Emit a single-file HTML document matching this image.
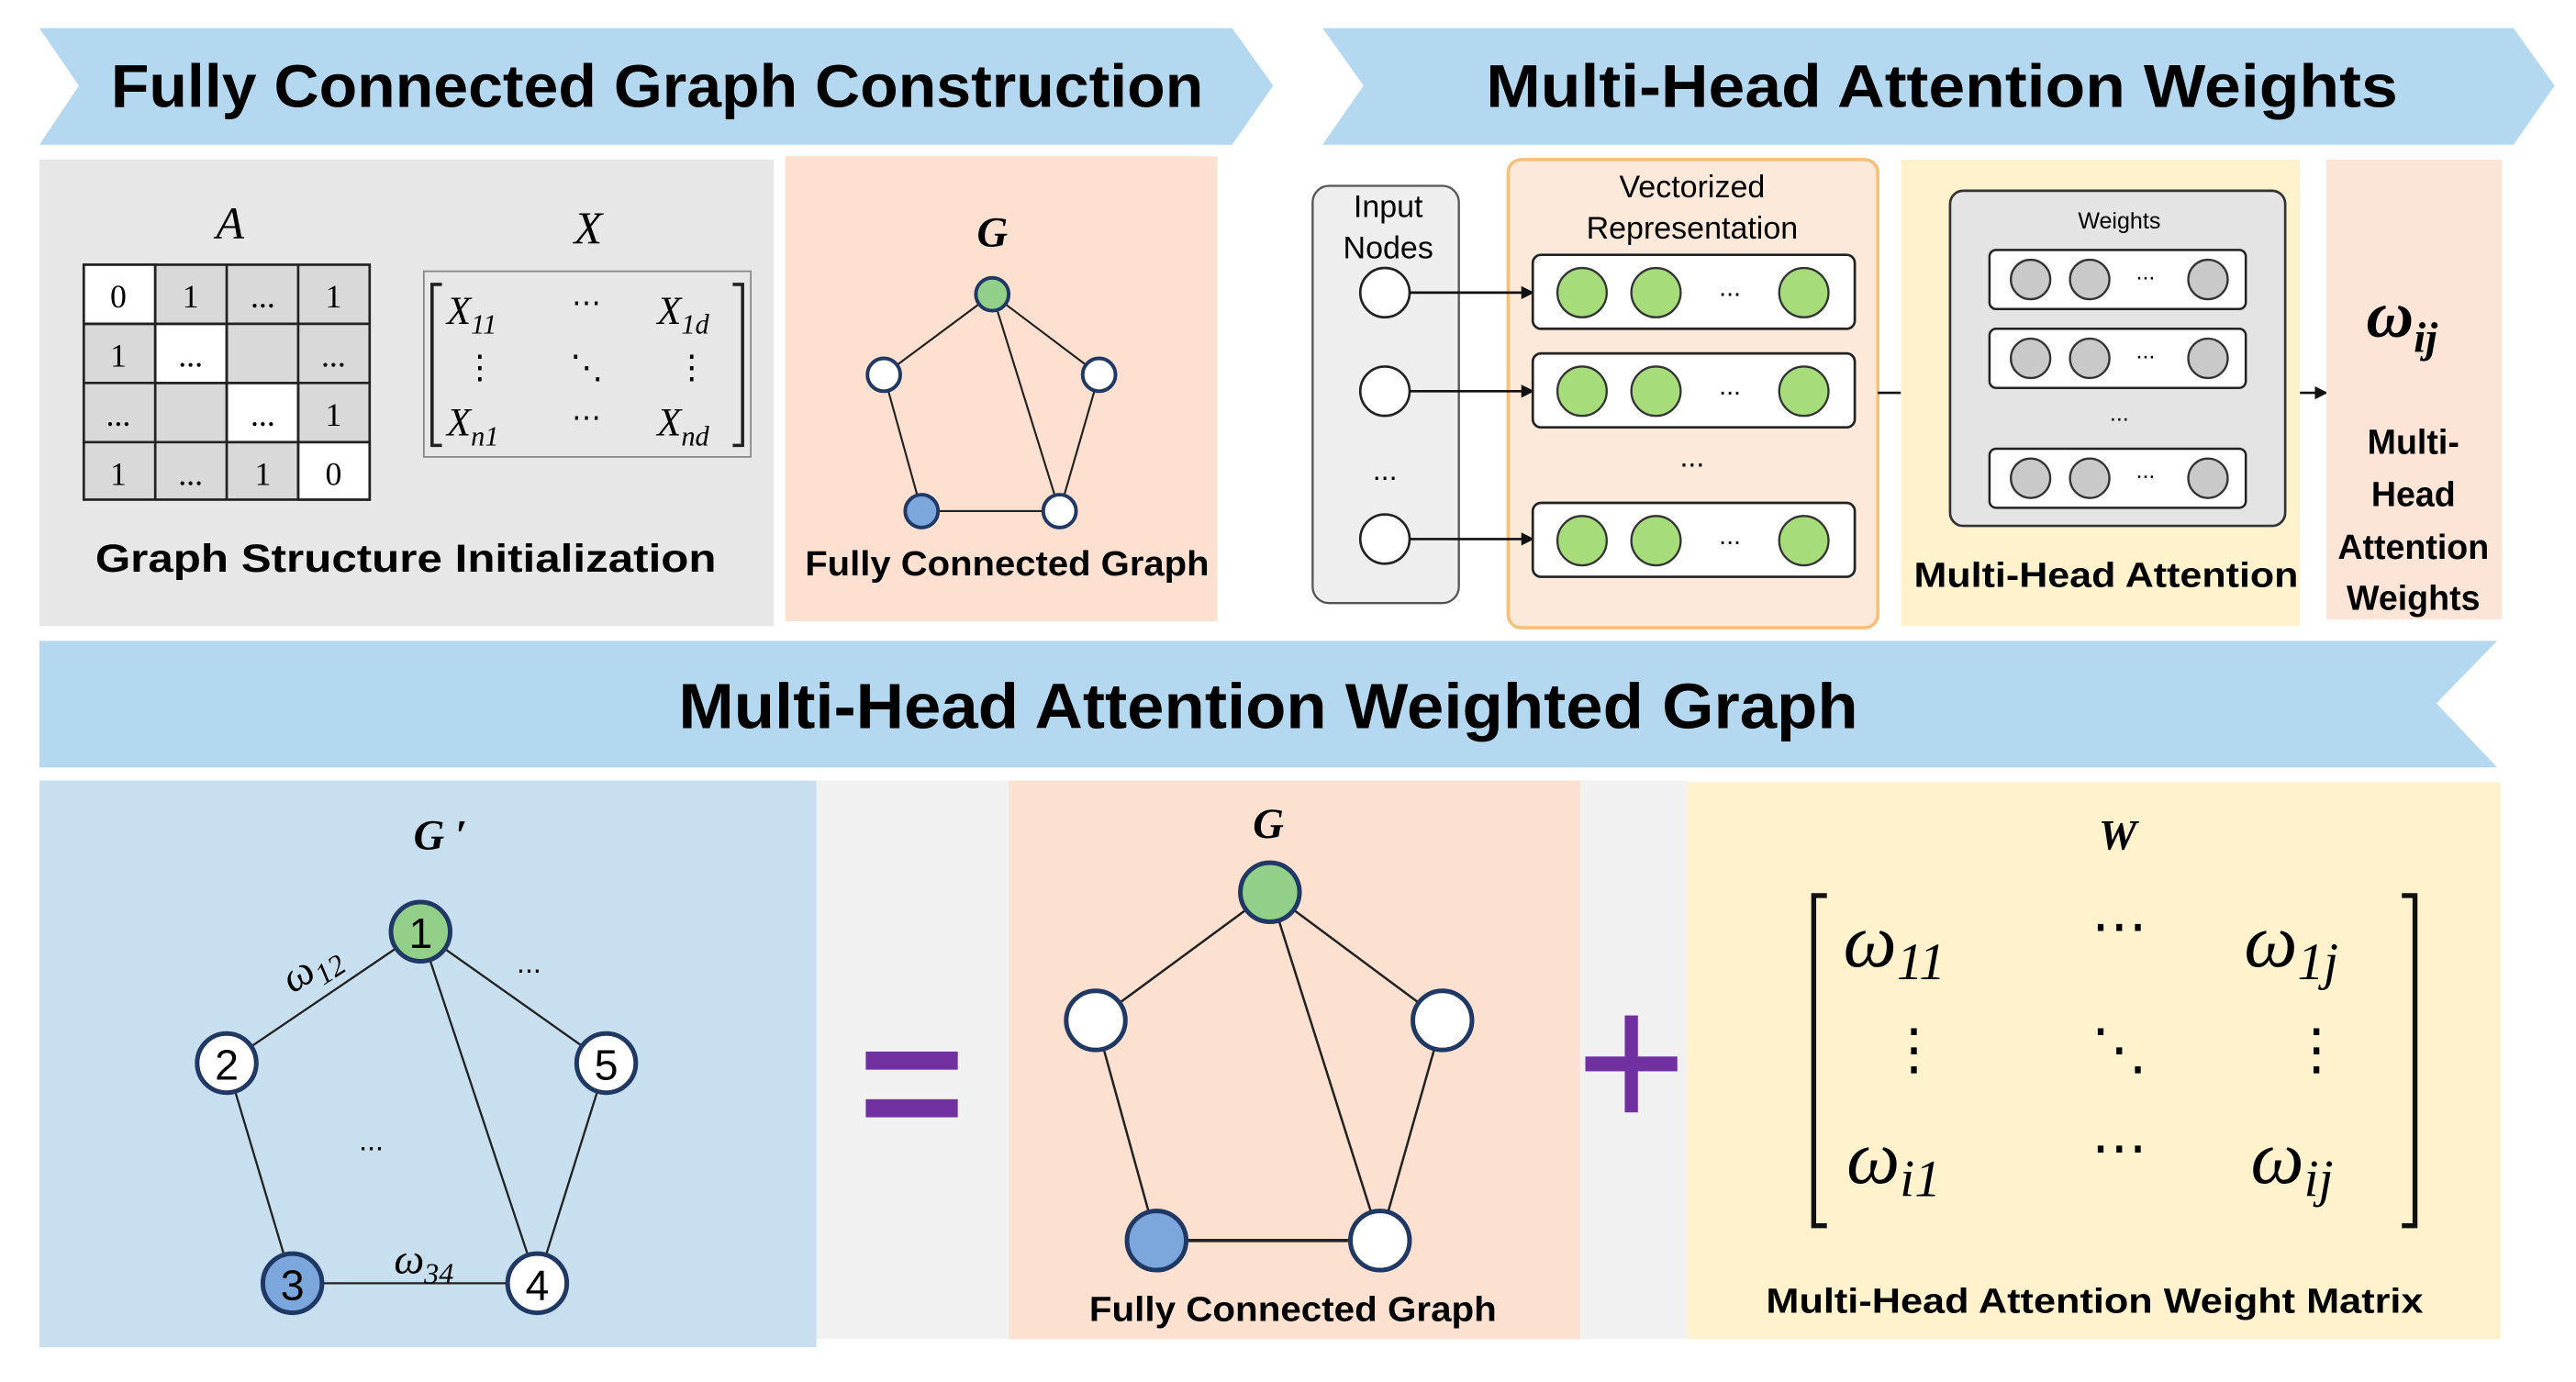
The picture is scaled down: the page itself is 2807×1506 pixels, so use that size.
<!DOCTYPE html>
<html><head><meta charset="utf-8"><style>
html,body{margin:0;padding:0;background:#fff;}
svg{display:block;}
.b{font-family:"Liberation Sans",sans-serif;font-weight:bold;fill:#000;}
.s{font-family:"Liberation Sans",sans-serif;fill:#000;}
.m{font-family:"Liberation Serif",serif;font-style:italic;fill:#000;}
.n{stroke:#1f3864;stroke-width:2.2;}
</style></head><body>
<svg width="2807" height="1506" viewBox="0 0 1568 841" xmlns="http://www.w3.org/2000/svg">
<rect width="1568" height="841" fill="#fff"/>
<!-- banners -->
<polygon points="24,17 750,17 775,52 750,88 24,88 48,52" fill="#b4d8ef"/>
<text class="b" x="400" y="65" font-size="37" text-anchor="middle" textLength="665" lengthAdjust="spacingAndGlyphs">Fully Connected Graph Construction</text>
<polygon points="805,17 1530,17 1555,52 1530,88 805,88 830,52" fill="#b4d8ef"/>
<text class="b" x="1182" y="65" font-size="37" text-anchor="middle" textLength="555" lengthAdjust="spacingAndGlyphs">Multi-Head Attention Weights</text>
<polygon points="24,390 1520,390 1483,428 1520,467 24,467" fill="#b4d8ef"/>
<text class="b" x="772" y="443" font-size="39" text-anchor="middle" textLength="718" lengthAdjust="spacingAndGlyphs">Multi-Head Attention Weighted Graph</text>

<!-- top-left panels -->
<rect x="24" y="97" width="447" height="284" fill="#e7e7e7"/>
<rect x="478" y="95" width="263" height="283" fill="#fde0cf"/>
<text class="m" x="140" y="145" font-size="28" text-anchor="middle">A</text>
<text class="m" x="358" y="148" font-size="28" text-anchor="middle">X</text>
<g stroke="#222" stroke-width="1.5">
<rect x="51" y="161" width="174" height="143" fill="#d9d9d9"/>
<rect x="51" y="161" width="43.5" height="36" fill="#fff"/>
<rect x="94.5" y="197" width="43.5" height="36" fill="#fff"/>
<rect x="138" y="233" width="43.5" height="36" fill="#fff"/>
<rect x="181.5" y="269" width="43.5" height="35" fill="#fff"/>
<line x1="94.5" y1="161" x2="94.5" y2="304"/><line x1="138" y1="161" x2="138" y2="304"/><line x1="181.5" y1="161" x2="181.5" y2="304"/>
<line x1="51" y1="197" x2="225" y2="197"/><line x1="51" y1="233" x2="225" y2="233"/><line x1="51" y1="269" x2="225" y2="269"/>
</g>
<g class="s" font-family="Liberation Serif" font-size="20" text-anchor="middle" style="font-family:'Liberation Serif',serif">
<text x="72" y="187">0</text><text x="116" y="187">1</text><text x="160" y="187">...</text><text x="203" y="187">1</text>
<text x="72" y="223">1</text><text x="116" y="223">...</text><text x="203" y="223">...</text>
<text x="72" y="259">...</text><text x="160" y="259">...</text><text x="203" y="259">1</text>
<text x="72" y="295">1</text><text x="116" y="295">...</text><text x="160" y="295">1</text><text x="203" y="295">0</text>
</g>
<rect x="258" y="165" width="199" height="113" fill="none" stroke="#888" stroke-width="1"/>
<path d="M269,173 h-6 v98 h6 M446,173 h6 v98 h-6" fill="none" stroke="#222" stroke-width="2"/>
<text class="m" x="272" y="197" font-size="24">X<tspan font-size="17" dy="6">11</tspan></text>
<text class="m" x="400" y="197" font-size="24">X<tspan font-size="17" dy="6">1d</tspan></text>
<text class="m" x="272" y="265" font-size="24">X<tspan font-size="17" dy="6">n1</tspan></text>
<text class="m" x="400" y="265" font-size="24">X<tspan font-size="17" dy="6">nd</tspan></text>
<text class="s" x="357" y="190" font-size="18" text-anchor="middle">⋯</text>
<text class="s" x="357" y="260" font-size="18" text-anchor="middle">⋯</text>
<text class="s" x="292" y="230" font-size="20" text-anchor="middle">⋮</text>
<text class="s" x="357" y="230" font-size="20" text-anchor="middle">⋱</text>
<text class="s" x="421" y="230" font-size="20" text-anchor="middle">⋮</text>
<text class="b" x="247" y="348" font-size="24" text-anchor="middle" textLength="378" lengthAdjust="spacingAndGlyphs">Graph Structure Initialization</text>

<text class="m" x="604" y="150" font-size="26" font-weight="bold" text-anchor="middle">G</text>
<g stroke="#222" stroke-width="1.2">
<line x1="604" y1="179" x2="538" y2="228"/><line x1="604" y1="179" x2="669" y2="228"/><line x1="604" y1="179" x2="645" y2="311"/>
<line x1="538" y1="228" x2="561" y2="311"/><line x1="669" y1="228" x2="645" y2="311"/><line x1="561" y1="311" x2="645" y2="311"/>
</g>
<circle class="n" cx="604" cy="179" r="10" fill="#92d08a"/>
<circle class="n" cx="538" cy="228" r="10" fill="#fff"/>
<circle class="n" cx="669" cy="228" r="10" fill="#fff"/>
<circle class="n" cx="561" cy="311" r="10" fill="#7ba7dd"/>
<circle class="n" cx="645" cy="311" r="10" fill="#fff"/>
<text class="b" x="613" y="350" font-size="21" text-anchor="middle" textLength="246" lengthAdjust="spacingAndGlyphs">Fully Connected Graph</text>

<!-- top-right -->
<rect x="799" y="113" width="89" height="254" rx="10" fill="#eeeeee" stroke="#555" stroke-width="1.3"/>
<text class="s" x="845" y="132" font-size="19" text-anchor="middle">Input</text>
<text class="s" x="845" y="157" font-size="19" text-anchor="middle">Nodes</text>
<text class="s" x="843" y="292" font-size="18" text-anchor="middle">...</text>
<rect x="918" y="97" width="225" height="285" rx="8" fill="#fde9d9" stroke="#f5c07a" stroke-width="2"/>
<text class="s" x="1030" y="120" font-size="19" text-anchor="middle">Vectorized</text>
<text class="s" x="1030" y="145" font-size="19" text-anchor="middle">Representation</text>
<text class="s" x="1030" y="284" font-size="18" text-anchor="middle">...</text>
<defs><marker id="ar" markerWidth="8" markerHeight="8" refX="7" refY="4" orient="auto" markerUnits="userSpaceOnUse"><path d="M0,0 L8,4 L0,8 z" fill="#111"/></marker></defs>
<g>
<circle cx="843" cy="178" r="15" fill="#fff" stroke="#222" stroke-width="1.5"/>
<circle cx="843" cy="238" r="15" fill="#fff" stroke="#222" stroke-width="1.5"/>
<circle cx="843" cy="328" r="15" fill="#fff" stroke="#222" stroke-width="1.5"/>
<g stroke="#111" stroke-width="1.5" marker-end="url(#ar)">
<line x1="858" y1="178" x2="933" y2="178"/><line x1="858" y1="238" x2="933" y2="238"/><line x1="858" y1="328" x2="933" y2="328"/>
<line x1="1143" y1="239" x2="1187" y2="239"/><line x1="1391" y1="239" x2="1416" y2="239"/>
</g>
</g>
<g stroke="#222" stroke-width="1.5">
<rect x="933" y="155" width="196" height="45" rx="5" fill="#fff"/>
<rect x="933" y="215" width="196" height="45" rx="5" fill="#fff"/>
<rect x="933" y="306" width="196" height="45" rx="5" fill="#fff"/>
</g>
<g fill="#a6dc7a" stroke="#333" stroke-width="1.3">
<circle cx="963" cy="178" r="15"/><circle cx="1008" cy="178" r="15"/><circle cx="1098" cy="178" r="15"/>
<circle cx="963" cy="238" r="15"/><circle cx="1008" cy="238" r="15"/><circle cx="1098" cy="238" r="15"/>
<circle cx="963" cy="329" r="15"/><circle cx="1008" cy="329" r="15"/><circle cx="1098" cy="329" r="15"/>
</g>
<g class="s" font-size="16" text-anchor="middle"><text x="1053" y="180">...</text><text x="1053" y="240">...</text><text x="1053" y="331">...</text></g>

<rect x="1157" y="97" width="243" height="284" fill="#fff2cc"/>
<rect x="1187" y="116" width="204" height="204" rx="8" fill="#e4e4e4" stroke="#333" stroke-width="1.5"/>
<text class="s" x="1290" y="139" font-size="14" text-anchor="middle">Weights</text>
<text class="s" x="1290" y="256" font-size="14" text-anchor="middle">...</text>
<g stroke="#222" stroke-width="1.4" fill="#fff">
<rect x="1211" y="152" width="156" height="36" rx="4"/><rect x="1211" y="200" width="156" height="36" rx="4"/><rect x="1211" y="273" width="156" height="36" rx="4"/>
</g>
<g fill="#c9c9c9" stroke="#333" stroke-width="1.3">
<circle cx="1236" cy="170" r="12"/><circle cx="1272" cy="170" r="12"/><circle cx="1344" cy="170" r="12"/>
<circle cx="1236" cy="218" r="12"/><circle cx="1272" cy="218" r="12"/><circle cx="1344" cy="218" r="12"/>
<circle cx="1236" cy="291" r="12"/><circle cx="1272" cy="291" r="12"/><circle cx="1344" cy="291" r="12"/>
</g>
<g class="s" font-size="14" text-anchor="middle"><text x="1306" y="170">...</text><text x="1306" y="218">...</text><text x="1306" y="291">...</text></g>
<text class="b" x="1282" y="357" font-size="21" text-anchor="middle" textLength="234" lengthAdjust="spacingAndGlyphs">Multi-Head Attention</text>

<rect x="1416" y="97" width="107" height="280" fill="#fce4d6"/>
<text class="m" x="1462" y="205" font-size="40" font-weight="bold" text-anchor="middle">ω<tspan font-size="26" dy="9">ij</tspan></text>
<g class="b" font-size="21" text-anchor="middle">
<text x="1469" y="276">Multi-</text><text x="1469" y="308">Head</text><text x="1469" y="340">Attention</text><text x="1469" y="371">Weights</text>
</g>

<!-- bottom -->
<rect x="24" y="475" width="473" height="345" fill="#c8dff0"/>
<rect x="497" y="475" width="117" height="340" fill="#f1f1f1"/>
<rect x="614" y="475" width="348" height="340" fill="#fce0d0"/>
<rect x="962" y="475" width="65" height="340" fill="#f1f1f1"/>
<rect x="1027" y="476" width="495" height="339" fill="#fff2cc"/>

<text class="m" x="268" y="517" font-size="26" font-weight="bold" text-anchor="middle">G ′</text>
<g stroke="#222" stroke-width="1.3">
<line x1="256" y1="567" x2="138" y2="647"/><line x1="256" y1="567" x2="369" y2="647"/><line x1="256" y1="567" x2="327" y2="781"/>
<line x1="138" y1="647" x2="178" y2="781"/><line x1="369" y1="647" x2="327" y2="781"/><line x1="178" y1="781" x2="327" y2="781"/>
</g>
<g stroke="#1f3864" stroke-width="2.8">
<circle cx="256" cy="567" r="18" fill="#92d08a"/><circle cx="138" cy="647" r="18" fill="#fff"/><circle cx="369" cy="647" r="18" fill="#fff"/>
<circle cx="178" cy="781" r="18" fill="#7ba7dd"/><circle cx="327" cy="781" r="18" fill="#fff"/>
</g>
<g class="s" font-size="26" text-anchor="middle">
<text x="256" y="577">1</text><text x="138" y="657">2</text><text x="369" y="657">5</text><text x="178" y="791">3</text><text x="327" y="791">4</text>
</g>
<text class="m" x="190" y="596" font-size="26" text-anchor="middle" transform="rotate(-33 190 590)">ω<tspan font-size="18" dy="6">12</tspan></text>
<text class="m" x="258" y="775" font-size="26" text-anchor="middle">ω<tspan font-size="18" dy="6">34</tspan></text>
<text class="s" x="322" y="592" font-size="18" text-anchor="middle">...</text>
<text class="s" x="226" y="700" font-size="18" text-anchor="middle">...</text>

<rect x="527" y="640" width="56" height="11" fill="#7030a0"/>
<rect x="527" y="669" width="56" height="11" fill="#7030a0"/>
<rect x="965" y="643" width="56" height="9" fill="#7030a0"/>
<rect x="989" y="618" width="8" height="59" fill="#7030a0"/>

<text class="m" x="772" y="510" font-size="26" font-weight="bold" text-anchor="middle">G</text>
<g stroke="#222" stroke-width="1.4">
<line x1="773" y1="543" x2="667" y2="621"/><line x1="773" y1="543" x2="878" y2="621"/><line x1="773" y1="543" x2="840" y2="755"/>
<line x1="667" y1="621" x2="704" y2="755"/><line x1="878" y1="621" x2="840" y2="755"/><line x1="704" y1="755" x2="840" y2="755" stroke-width="2"/>
</g>
<g stroke="#1f3864" stroke-width="2.8">
<circle cx="773" cy="543" r="18" fill="#92d08a"/><circle cx="667" cy="621" r="18" fill="#fff"/><circle cx="878" cy="621" r="18" fill="#fff"/>
<circle cx="704" cy="755" r="18" fill="#7ba7dd"/><circle cx="840" cy="755" r="18" fill="#fff"/>
</g>
<text class="b" x="787" y="804" font-size="21" text-anchor="middle" textLength="248" lengthAdjust="spacingAndGlyphs">Fully Connected Graph</text>

<text class="m" x="1289" y="517" font-size="26" font-weight="bold" text-anchor="middle">W</text>
<path d="M1112,545 h-8 v201 h8 M1462,545 h8 v201 h-8" fill="none" stroke="#111" stroke-width="3"/>
<text class="m" x="1122" y="588" font-size="46">ω<tspan font-size="32" dy="8">11</tspan></text>
<text class="m" x="1366" y="588" font-size="46">ω<tspan font-size="32" dy="8">1j</tspan></text>
<text class="m" x="1124" y="720" font-size="46">ω<tspan font-size="32" dy="8">i1</tspan></text>
<text class="m" x="1370" y="720" font-size="46">ω<tspan font-size="32" dy="8">ij</tspan></text>
<g class="s" font-size="34" text-anchor="middle" style="font-family:'DejaVu Sans',sans-serif">
<text x="1290" y="575">⋯</text><text x="1290" y="710">⋯</text>
<text x="1165" y="650">⋮</text><text x="1290" y="650">⋱</text><text x="1410" y="650">⋮</text>
</g>
<text class="b" x="1275" y="799" font-size="21" text-anchor="middle" textLength="400" lengthAdjust="spacingAndGlyphs">Multi-Head Attention Weight Matrix</text>
</svg>
</body></html>
